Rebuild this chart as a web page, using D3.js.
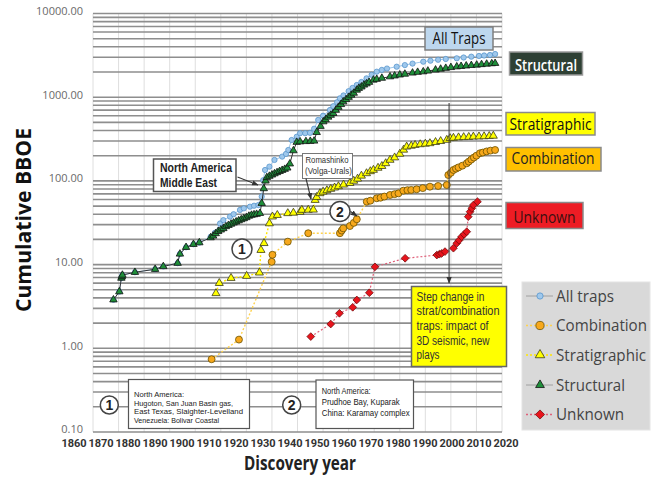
<!DOCTYPE html>
<html>
<head>
<meta charset="utf-8">
<script src="https://cdn.jsdelivr.net/npm/d3@7"></script>
<style>
  body { margin: 0; background: #fff; }
  text { font-family: "Open Sans", "DejaVu Sans", sans-serif; }
</style>
</head>
<body>
<svg id="chart" width="657" height="481"></svg>
<script>
// ---- data: [discovery year, cumulative BBOE] ----
const yearTicks = d3.range(1860, 2021, 10);
const valueTicks = [0.1, 1, 10, 100, 1000, 10000];

const allTraps = [
  [1868,3.8],[1870.3,4.75],[1871.1,6.9],[1871.3,7.2],[1871.5,7.5],[1876.4,8.1],[1884.3,8.8],
  [1887.5,9.5],[1893.1,10.4],[1894,13.4],[1896.4,16.1],[1899.3,17.5],[1901.6,18.3],
  [1906,21.5],[1907.7,24],[1909.7,31],[1911,34],[1913.6,37.4],[1915,40],[1917.5,45],
  [1919,47],[1921.4,49.2],[1923,50.5],[1924.7,51.5],[1926,65],[1926.6,102],[1927.3,135],
  [1929,148],[1931,178],[1934,195],[1935.5,210],[1936.4,234],[1937.7,308],[1939.7,337],
  [1941,371],[1943,371],[1944.9,375],[1946.5,420],[1948.1,535],[1950,600],[1952.7,703],
  [1954,780],[1955.5,870],[1956.6,970],[1958,1050],[1960,1180],[1961.5,1290],[1963.2,1399],
  [1965,1520],[1967,1680],[1969,1850],[1971,2018],[1973,2120],[1975,2200],[1978.8,2313],
  [1982,2420],[1985,2520],[1989.2,2655],[1992,2730],[1995,2800],[1998,2860],[2002.3,2917],
  [2005,2980],[2008,3050],[2011,3110],[2013,3150],[2015.3,3192],[2017.3,3281]
];

const combination = [
  [1906.4,0.74],[1917.1,1.27],[1929.9,10.8],[1930.2,13.1],[1936.2,18.8],[1944.2,23.7],
  [1956.6,23.7],[1957.3,25.5],[1957.9,27.1],[1960.5,28.9],[1962,31.5],[1963.2,34.8],
  [1967.1,56.4],[1968.5,58],[1971,62],[1972.5,63],[1974,65],[1976.2,67.9],[1978,69.5],
  [1979.5,71],[1981.4,76.4],[1983,77.5],[1984.5,78],[1986.6,79.4],[1989,82],[1991.8,85.3],
  [1995,87],[1998.4,89.3],[1999,117.5],[2000,125],[2001,135],[2002,140],[2003,145],
  [2004.5,152],[2006.2,162],[2007,170],[2008,180],[2009,190],[2010,200],[2011.4,214],
  [2012.5,218],[2014,225],[2015.5,230],[2017.3,234]
];

const stratigraphic = [
  [1908.1,4.54],[1909.4,6.0],[1914,6.9],[1920.1,7.3],[1925.1,8.0],[1925.7,14.9],[1926.9,18],
  [1929,31],[1930.2,37.4],[1932.1,39],[1936.2,41],[1938.4,41.5],[1941,42.5],[1941.7,44.9],
  [1944.2,45],[1946.2,45.2],[1946.9,59],[1947.5,64],[1948.8,71],[1950,74],[1951.5,77],
  [1953,80],[1954.5,83],[1956,86],[1958,90],[1960.5,94],[1962,100],[1963.5,106],[1965,115],
  [1967,123],[1968.5,130],[1969.7,135],[1971.5,143],[1973,150],[1974.5,162],[1976.2,178],
  [1978,190],[1980,210],[1981.5,235],[1982.7,256],[1984.5,262],[1986,268],[1988,273],
  [1990,277],[1991.8,281],[1994,290],[1996,298],[1998.4,308],[1999.7,323],[2001,326],
  [2003,330],[2005,332],[2007,334],[2008.8,337],[2011,338],[2013,340],[2015,342],[2016.6,345]
];

const structural = [
  [1868,3.8],[1870.3,4.75],[1871.1,6.9],[1871.3,7.2],[1871.5,7.5],[1876.4,8.1],[1884.3,8.8],
  [1887.5,9.5],[1893.1,10.4],[1894,13.4],[1896.4,16.1],[1899.3,17.5],[1901.6,18.3],
  [1906,21],[1907,22],[1908,23.5],[1909,25],[1910,26],[1911,27],[1912,28.5],[1913,29.5],
  [1914,30.5],[1915,31.5],[1916,32.5],[1917,33.5],[1918,34.5],[1919,35.5],[1920,36.5],
  [1921,38],[1922,39],[1923,39.5],[1924,40],[1925.3,41],[1926,54],[1926.8,81],[1927.5,100],
  [1928,110],[1929,114],[1930,118],[1931,122],[1932,126],[1933,130],[1934,134],[1935,138],
  [1936,143],[1937,160],[1938.4,230],[1939.7,290],[1941,294],[1943.3,296],[1945,298],
  [1946.5,300],[1947.5,380],[1949,450],[1950.1,510],[1951,540],[1952,580],[1953,610],
  [1954,642],[1955,700],[1956,760],[1957,820],[1957.9,883],[1959,940],[1960,1000],
  [1961,1060],[1962,1120],[1963.2,1219],[1964,1280],[1965,1330],[1966,1400],[1967,1450],
  [1968,1510],[1969.7,1606],[1971,1640],[1973,1690],[1976.2,1758],[1978,1800],[1980,1850],
  [1982,1890],[1985,1950],[1987,1990],[1989.2,2018],[1991,2060],[1994,2120],[1996,2170],
  [1998,2220],[2000,2270],[2002.3,2313],[2004,2340],[2006,2370],[2008,2400],[2010.1,2426],
  [2012,2460],[2014,2490],[2016,2520],[2017.3,2541]
];

const unknown = [
  [1945.2,1.38],[1953,1.95],[1956.4,2.62],[1961.6,3.09],[1963.2,3.78],[1968.1,4.61],
  [1970.3,9.4],[1982.1,11.9],[1994.5,13.0],[1995.5,13.3],[1996.4,13.6],[1997.7,14.3],
  [2001,15.7],[2002.3,17.96],[2003.2,19.5],[2004.2,21.5],[2005.2,23],[2006.2,24.7],
  [2006.8,37.4],[2007.5,42.8],[2008.2,47],[2008.8,51.5],[2010.4,56.4]
];

// ---- series styling ----
const seriesDefs = [
  { name: "All traps", data: allTraps, symbol: d3.symbolCircle, size: 22, rotate: 0,
    fill: "#9fc8ec", stroke: "#4f8fc8", sw: 0.7, line: "#9fc8ec", lineW: 1, dash: null },
  { name: "Combination", data: combination, symbol: d3.symbolCircle, size: 38, rotate: 0,
    fill: "#f7a81b", stroke: "#6b5200", sw: 0.8, line: "#ffd24d", lineW: 1.4, dash: "2,2" },
  { name: "Stratigraphic", data: stratigraphic, symbol: d3.symbolTriangle, size: 28, rotate: 0,
    fill: "#ffff00", stroke: "#3a3a1a", sw: 0.8, line: "#ffe600", lineW: 1.4, dash: "2,2" },
  { name: "Structural", data: structural, symbol: d3.symbolTriangle, size: 24, rotate: 0,
    fill: "#1f8f3a", stroke: "#111", sw: 0.8, line: "#333", lineW: 1, dash: null },
  { name: "Unknown", data: unknown, symbol: d3.symbolSquare, size: 30, rotate: 45,
    fill: "#e8141c", stroke: "#6a0a0a", sw: 0.7, line: "#e0607a", lineW: 1.2, dash: "2,2" }
];

const svg = d3.select("#chart");

const x = d3.scaleLinear().domain([1860, 2020]).range([93, 502]);
const y = d3.scaleLog().domain([0.1, 10000]).range([432, 13.5]);
const xLabel = d3.scaleLinear().domain([1860, 2020]).range([73.5, 505.5]);

// arrowhead
const defs = svg.append("defs");
defs.append("marker").attr("id", "arrow").attr("viewBox", "0 0 10 10")
  .attr("refX", 9).attr("refY", 5).attr("markerWidth", 6).attr("markerHeight", 6)
  .attr("orient", "auto-start-reverse")
  .append("path").attr("d", "M0,1 L10,5 L0,9 z").attr("fill", "#333");

// ---- gridlines ----
svg.append("g").selectAll("line").data(yearTicks).join("line")
  .attr("x1", d => x(d)).attr("x2", d => x(d))
  .attr("y1", y(10000)).attr("y2", y(0.1))
  .attr("stroke", "#dedede").attr("stroke-width", 1);

const hLines = [];
for (let e = -1; e <= 3; e++) for (let m = 1; m <= 9; m++) hLines.push(m * Math.pow(10, e));
hLines.push(10000);
svg.append("g").selectAll("line").data(hLines).join("line")
  .attr("x1", x(1860)).attr("x2", x(2020))
  .attr("y1", d => y(d)).attr("y2", d => y(d))
  .attr("stroke", "#8e8e8e").attr("stroke-width", 1.6);

// ---- axes ----
const yAxis = svg.append("g").attr("transform", "translate(93,-2.7)")
  .call(d3.axisLeft(y).tickValues(valueTicks).tickFormat(d => d.toFixed(2)).tickSize(0).tickPadding(10));
yAxis.select(".domain").remove();
yAxis.selectAll("text").attr("font-size", 11).attr("fill", "#6a6a6a")
  .style("font-family", "'Open Sans', sans-serif");

const xAxis = svg.append("g").attr("transform", "translate(0,436)")
  .call(d3.axisBottom(xLabel).tickValues(yearTicks).tickFormat(d3.format("d")).tickSize(0).tickPadding(3));
xAxis.select(".domain").remove();
xAxis.selectAll("text").attr("font-size", 11).attr("font-weight", "bold").attr("fill", "#333")
  .style("font-family", "Roboto, sans-serif");

svg.append("text").attr("transform", "translate(31,220) rotate(-90)")
  .attr("text-anchor", "middle").attr("font-size", 22).attr("font-weight", "bold")
  .attr("textLength", 184).attr("lengthAdjust", "spacingAndGlyphs")
  .attr("fill", "#111").text("Cumulative BBOE");

svg.append("text").attr("x", 300).attr("y", 470)
  .attr("text-anchor", "middle").attr("font-size", 19).attr("font-weight", "bold")
  .attr("textLength", 112).attr("lengthAdjust", "spacingAndGlyphs")
  .attr("fill", "#222").text("Discovery year");

// ---- series ----
const lineGen = d3.line().x(d => x(d[0])).y(d => y(d[1]));
seriesDefs.forEach(s => {
  const g = svg.append("g");
  g.append("path").datum(s.data).attr("d", lineGen).attr("fill", "none")
    .attr("stroke", s.line).attr("stroke-width", s.lineW)
    .attr("stroke-dasharray", s.dash);
  g.selectAll("path.pt").data(s.data).join("path").attr("class", "pt")
    .attr("d", d3.symbol().type(s.symbol).size(s.size))
    .attr("transform", d => `translate(${x(d[0])},${y(d[1])}) rotate(${s.rotate})`)
    .attr("fill", s.fill).attr("stroke", s.stroke).attr("stroke-width", s.sw);
});

// ---- helpers for annotations ----
function rect(x0, y0, w, h, fill, stroke, sw) {
  return svg.append("rect").attr("x", x0).attr("y", y0).attr("width", w).attr("height", h)
    .attr("fill", fill).attr("stroke", stroke).attr("stroke-width", sw);
}
function txt(str, tx, ty, size, opt = {}) {
  const t = svg.append("text").attr("x", tx).attr("y", ty).attr("font-size", size)
    .attr("fill", opt.fill || "#222").attr("text-anchor", opt.anchor || "start")
    .attr("font-weight", opt.weight || "normal")
    .style("font-family", opt.family || "'Liberation Sans', Arial, sans-serif").text(str);
  if (opt.len) t.attr("textLength", opt.len).attr("lengthAdjust", "spacingAndGlyphs");
  return t;
}
function arrow(x1, y1, x2, y2) {
  svg.append("line").attr("x1", x1).attr("y1", y1).attr("x2", x2).attr("y2", y2)
    .attr("stroke", "#333").attr("stroke-width", 1.1).attr("marker-end", "url(#arrow)");
}
function badge(cx, cy, r, label) {
  svg.append("circle").attr("cx", cx).attr("cy", cy).attr("r", r)
    .attr("fill", "#fff").attr("stroke", "#444").attr("stroke-width", 1.5);
  txt(label, cx, cy + 5, 14, { anchor: "middle", weight: "bold", fill: "#222" });
}
const OPEN = "'Open Sans', sans-serif";

// series name tags
rect(425, 27, 68, 23, "#bdd7ee", "#7f7f7f", 1.5);
txt("All Traps", 459, 44.3, 17, { anchor: "middle", len: 53, fill: "#111", family: OPEN });
rect(509.5, 52, 73, 23, "#2e4034", "#9a9a9a", 1.5);
txt("Structural", 546, 70.5, 17, { anchor: "middle", len: 62, fill: "#fff", weight: 600, family: OPEN });
rect(506, 112.5, 89, 22.5, "#ffff00", "#8a8a8a", 1.5);
txt("Stratigraphic", 550.5, 129.5, 17, { anchor: "middle", len: 82, fill: "#111", family: OPEN });
rect(506, 147.5, 95, 23.5, "#ffc000", "#8a8a8a", 1.5);
txt("Combination", 553, 163.5, 17, { anchor: "middle", len: 83, fill: "#222", family: OPEN });
rect(506, 202.5, 77, 26, "#ed1c24", "#8a8a8a", 1.5);
txt("Unknown", 544.5, 222.5, 17, { anchor: "middle", len: 62, fill: "#3b1010", family: OPEN });

// callouts
rect(153.5, 159, 82.5, 32.5, "#fff", "#555", 1.5);
txt("North America", 160, 172, 12.8, { weight: "bold", len: 72, fill: "#222" });
txt("Middle East", 160, 187, 12.8, { weight: "bold", len: 57, fill: "#222" });
arrow(237.5, 177, 258, 185);

rect(302.5, 153.5, 50, 25, "#fff", "#777", 1);
txt("Romashinko", 305.5, 163.3, 8.8, { len: 43, fill: "#333" });
txt("(Volga-Urals)", 305, 174, 8.8, { len: 47, fill: "#333" });
arrow(306, 178.5, 311, 199);

badge(242, 249, 10, "1");
badge(340, 211.5, 10, "2");
arrow(350.5, 211.5, 357, 216);

svg.append("line").attr("x1", x(1999.3)).attr("x2", x(1999.3)).attr("y1", 103).attr("y2", 283)
  .attr("stroke", "#444").attr("stroke-width", 1.1).attr("marker-end", "url(#arrow)");
rect(411.5, 286.5, 95, 80, "#ffff00", "#666", 1.5);
[["Step change in", 68], ["strat/combination", 83], ["traps: impact of", 72],
 ["3D seismic, new", 73], ["plays", 23]].forEach((l, i) =>
  txt(l[0], 416.5, 300.5 + i * 14.7, 12.3, { len: l[1], fill: "#333" }));

// field notes at the bottom
badge(109.3, 405, 9, "1");
rect(128.5, 379.5, 121, 49, "#fff", "#555", 1.2);
[["North America:", 50], ["Hugoton, San Juan Basin gas,", 99],
 ["East Texas, Slaighter-Levelland", 109], ["Venezuela: Bolivar Coastal", 85]].forEach((l, i) =>
  txt(l[0], 134, 396.8 + i * 8.7, 7.5, { len: l[1], fill: "#222" }));

badge(291.7, 405, 9, "2");
rect(316, 380, 97.5, 48.5, "#fff", "#555", 1.2);
[["North America:", 49], ["Prudhoe Bay, Kuparak", 78], ["China: Karamay complex", 88]].forEach((l, i) =>
  txt(l[0], 321.7, 393.5 + i * 11.3, 9, { len: l[1], fill: "#222" }));

// ---- legend ----
rect(522, 282, 128, 148, "#d9d9d9", "#e4e4e4", 1);
const legendY = [296, 325.5, 355, 385, 414.5];
const legendLen = [58, 91, 90, 69, 68];
seriesDefs.forEach((s, i) => {
  const ly = legendY[i];
  svg.append("line").attr("x1", 526).attr("x2", 553).attr("y1", ly).attr("y2", ly)
    .attr("stroke", s.dash ? s.line : "#a0a0a0").attr("stroke-width", s.dash ? 1.4 : 1)
    .attr("stroke-dasharray", s.dash);
  svg.append("path").attr("d", d3.symbol().type(s.symbol).size(s.size * 1.4))
    .attr("transform", `translate(540,${ly}) rotate(${s.rotate})`)
    .attr("fill", s.fill).attr("stroke", s.stroke).attr("stroke-width", s.sw);
  txt(s.name, 556, ly + 5.5, 16, { len: legendLen[i], fill: "#444", family: OPEN });
});
</script>
</body>
</html>
